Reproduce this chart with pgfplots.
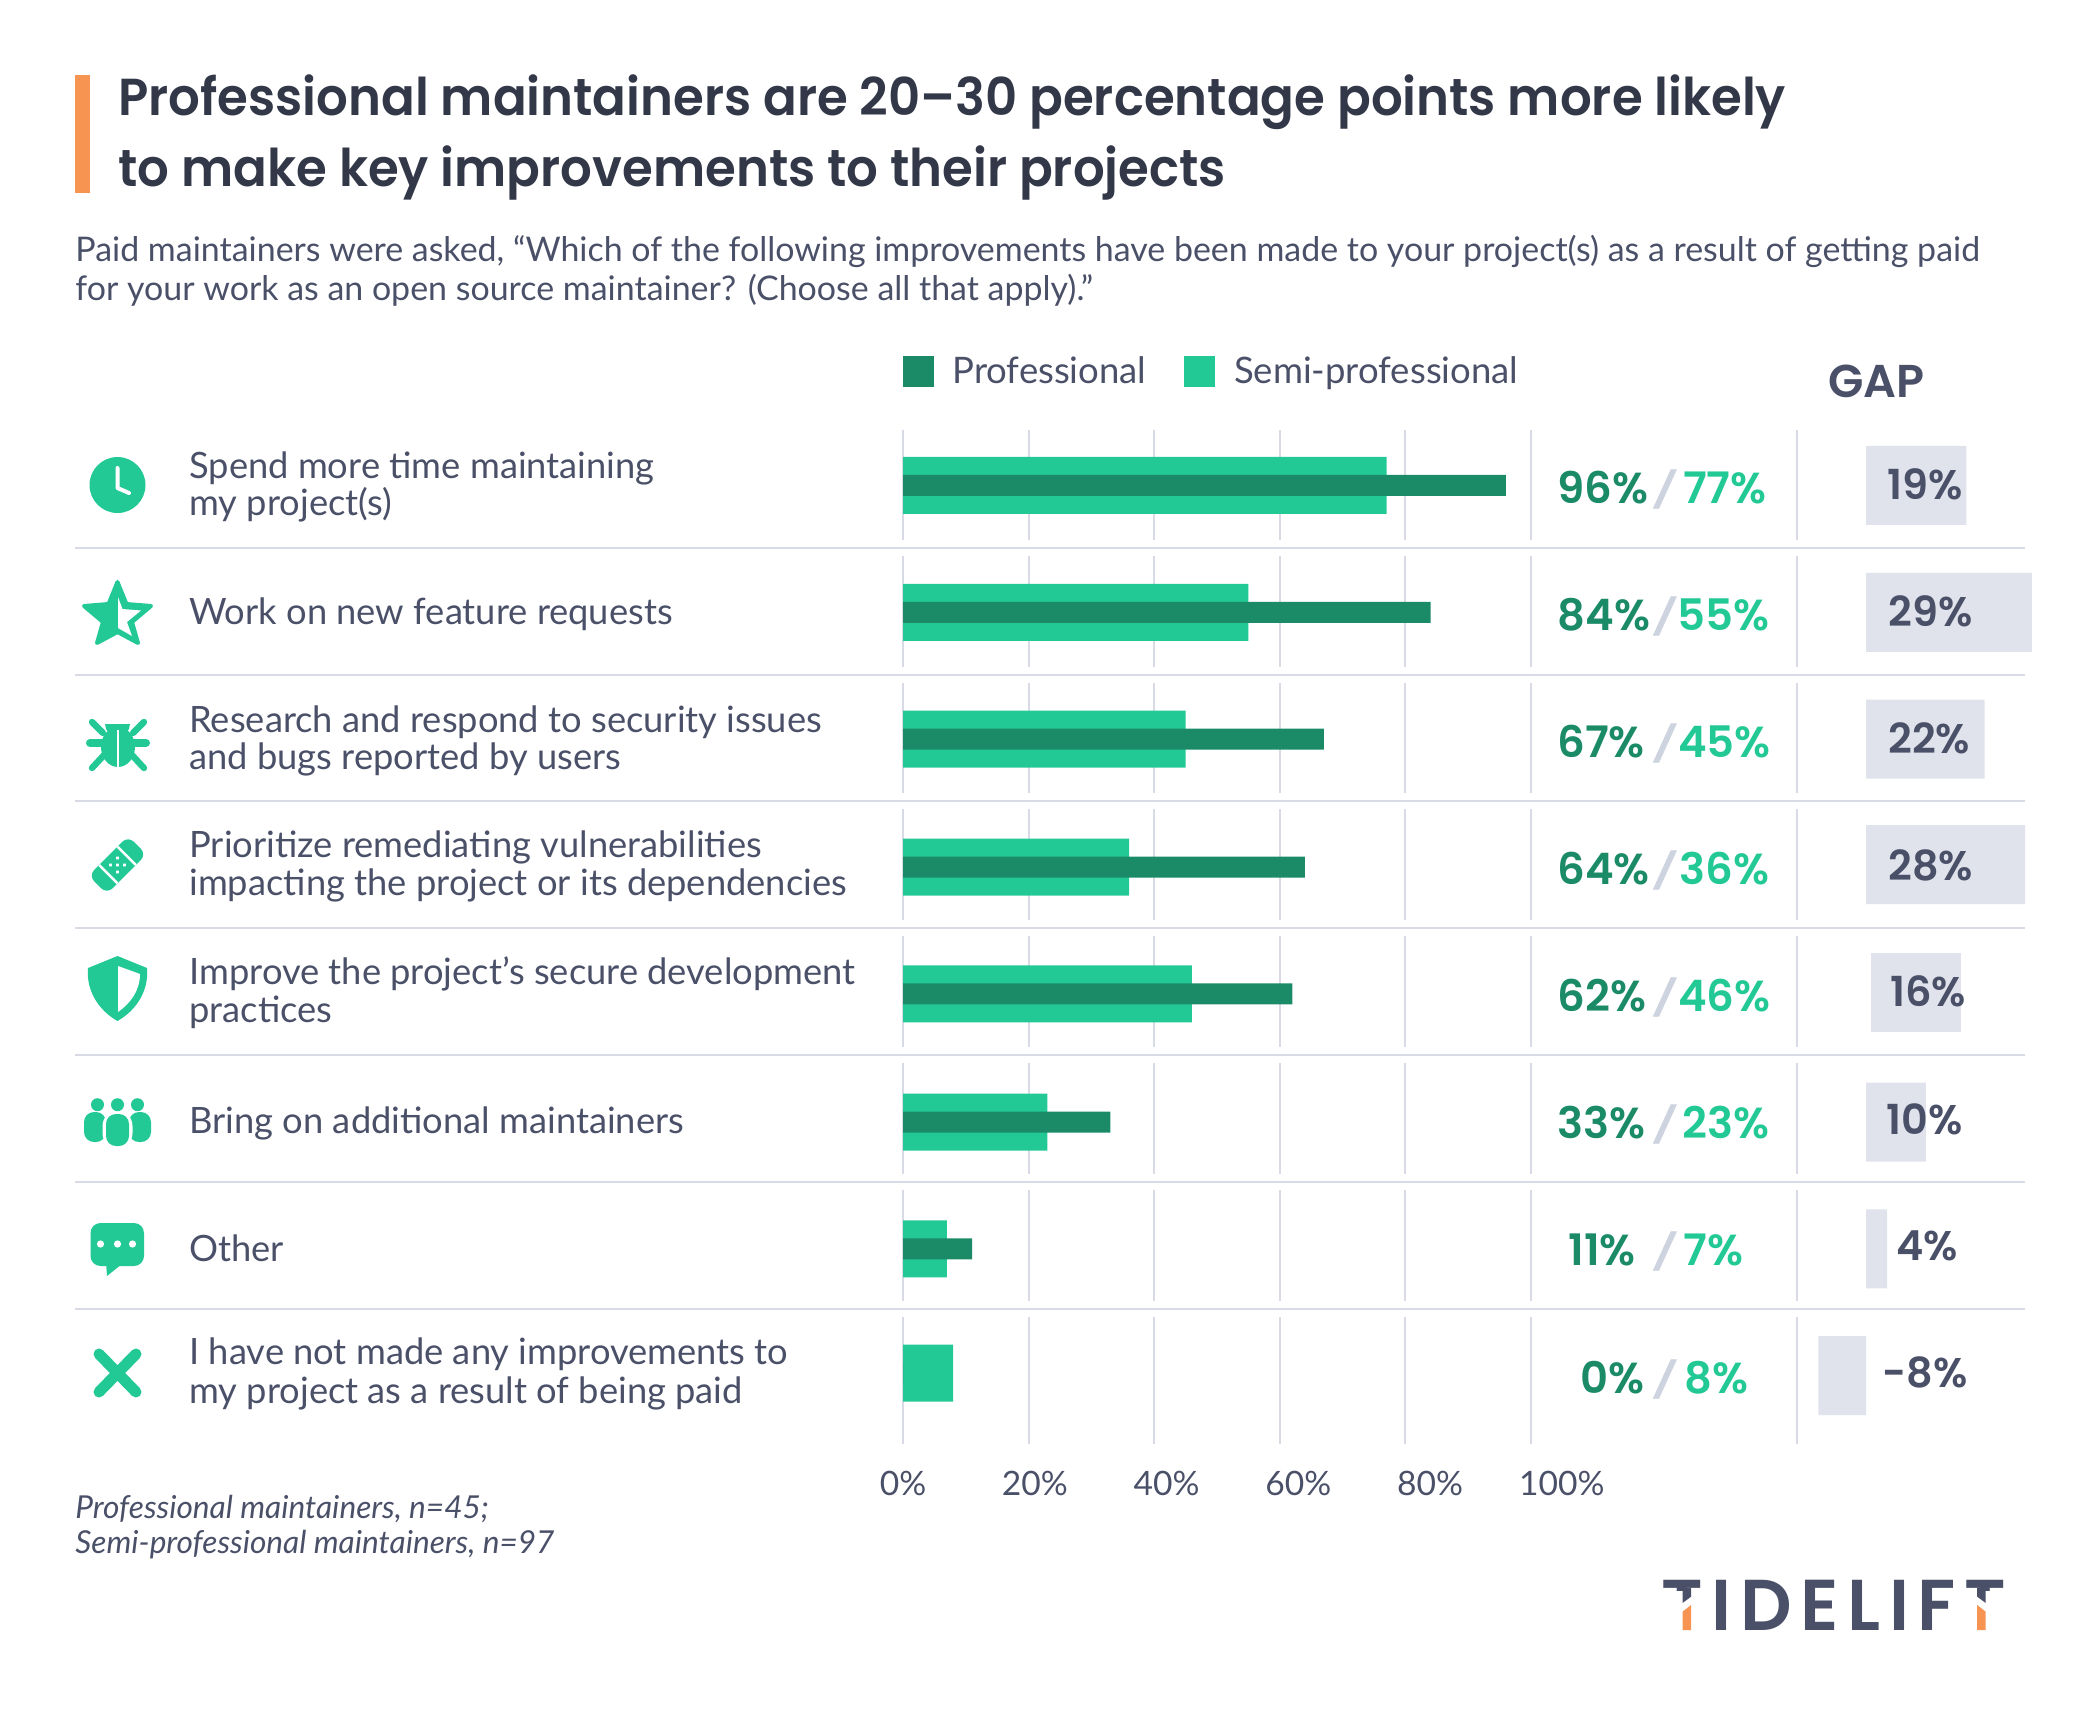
\documentclass[border=0pt]{standalone}
\usepackage{fontspec}
\setmainfont{Lato}
\newfontfamily\headfont{Poppins SemiBold}
\newfontfamily\titlefont[FakeStretch=0.958]{Poppins SemiBold}
\newfontfamily\slashfont[FakeSlant=0.22,FakeBold=1.5]{Poppins}
\newfontfamily\logofont[LetterSpace=12]{Poppins SemiBold}
\usepackage{pgfplots}
\pgfplotsset{compat=1.18}
\usepackage{pgfplotstable}
\definecolor{semi}{HTML}{23C995}
\definecolor{prof}{HTML}{1A8A67}
\definecolor{ink}{HTML}{4A5068}
\definecolor{dark}{HTML}{333849}
\definecolor{gapfill}{HTML}{E0E3EB}
\definecolor{rule}{HTML}{D8DBE5}
\definecolor{slash}{HTML}{CDD3DF}
\definecolor{accent}{HTML}{F89451}

% row, professional, semi-professional
\pgfplotstableread{
row prof semi
0 96 77
1 84 55
2 67 45
3.01 64 36
4.01 62 46
5.02 33 23
6.02 11 7
7 0 8
}\improvements
% row, gap bar as drawn
\pgfplotstableread{
row gap
0 17.9
1 29.6
2 21.2
2.99 28.4
5.02 10.7
6.02 3.75
7.02 -8.5
}\gaps

\newcommand{\rowlabel}[2]{\node[anchor=base west,inner sep=0,text=ink,font=\fontsize{18.15}{20}\selectfont] at (189,#1+1) {#2};}
\newcommand{\scores}[5]{%
  \node[anchor=base west,inner sep=0,text=prof,font=\headfont\fontsize{21.7}{22}\selectfont] at (#2,#1) {#3\%};
  \node[anchor=base,inner sep=0,text=slash,font=\slashfont\bfseries\fontsize{17}{22}\selectfont] at (1662,#1-1) {/};
  \node[anchor=base east,inner sep=0,text=semi,font=\headfont\fontsize{21.7}{22}\selectfont] at (#4,#1) {#5\%};}
\newcommand{\gaptext}[3]{\node[anchor=base west,inner sep=0,text=ink,font=\headfont\fontsize{20.7}{22}\selectfont] at (#2,#1) {#3\%};}

\begin{document}
\begin{tikzpicture}[x=0.5pt,y=-0.5pt]
\path[use as bounding box] (0,0) rectangle (2100,1730);

\begin{axis}[
  at={(451.5pt,-722pt)}, anchor=south west,
  scale only axis, width=314pt, height=507pt,
  xmin=0, xmax=100, ymin=-0.437, ymax=7.559,
  y dir=reverse,
  hide y axis,
  axis x line=bottom,
  x axis line style={draw=none},
  tick style={draw=none},
  xtick={0,20,40,60,80,100},
  xticklabels={0\%,20\%,40\%,60\%,80\%,100\%},
  xticklabel style={text=ink,font=\fontsize{16.8}{20}\selectfont,yshift=-8pt,xshift=\ticknum*3.08pt},
  xmajorgrids,
  grid style={rule,line width=1pt},
  clip=false,
  legend style={draw=none,fill=none,at={(0,1)},anchor=south west,yshift=19.7pt,xshift=-0.3pt,
    inner sep=0pt,font=\fontsize{18.25}{20}\selectfont,text=ink,legend columns=2,
    /tikz/every even column/.append style={column sep=17pt}},
  legend image code/.code={\fill[#1] (0pt,-7.5pt) rectangle (15pt,7.5pt);},
]
\addlegendimage{prof}\addlegendentry{\hspace{7.4pt}Professional}
\addlegendimage{semi}\addlegendentry{\hspace{7.4pt}Semi-professional}
\addplot[xbar,forget plot,bar width=28.5pt,bar shift=0pt,fill=semi,draw=none] table[x=semi,y=row] {\improvements};
\addplot[xbar,forget plot,bar width=10.5pt,bar shift=0pt,fill=prof,draw=none] table[x=prof,y=row] {\improvements};
\end{axis}

\begin{axis}[
  at={(898.5pt,-722pt)}, anchor=south west,
  scale only axis, width=121.5pt, height=507pt,
  xmin=-12.32, xmax=31.07, ymin=-0.437, ymax=7.559,
  y dir=reverse,
  axis lines=none,
  clip=false,
]
\addplot[xbar,bar width=39.5pt,bar shift=0pt,fill=gapfill,draw=none] table[x=gap,y=row] {\gaps};
% this bar starts a little right of the baseline in the reference
\addplot[fill=gapfill,draw=none] coordinates {(0.9,3.69)(16.9,3.69)(16.9,4.31)(0.9,4.31)} -- cycle;
\end{axis}
\draw[rule,line width=1pt] (1797,430) -- (1797,1444);

% white gaps and row rules
\foreach \s in {547.5,674.6,801.4,928,1055,1182,1309}{
  \fill[white] (890,\s-8) rectangle (1810,\s+8);
  \draw[rule,line width=1pt] (75,\s) -- (2025,\s);
}

% header
\fill[accent] (75,75) rectangle (90,193);
\node[anchor=base west,inner sep=0,text=dark,font=\titlefont\fontsize{26}{30}\selectfont] at (118,115) {Professional maintainers are 20–30 percentage points more likely};
\node[anchor=base west,inner sep=0,text=dark,font=\titlefont\fontsize{26}{30}\selectfont] at (118,186) {to make key improvements to their projects};
\node[anchor=base west,inner sep=0,text=ink,font=\fontsize{16.97}{20}\selectfont] at (75,261) {Paid maintainers were asked, “Which of the following improvements have been made to your project(s) as a result of getting paid};
\node[anchor=base west,inner sep=0,text=ink,font=\fontsize{16.97}{20}\selectfont] at (75,300) {for your work as an open source maintainer? (Choose all that apply).”};
\node[anchor=base west,inner sep=0,text=ink,font=\headfont\fontsize{23}{24}\selectfont] at (1828,397) {GAP};

% row labels
\rowlabel{477}{Spend more time maintaining}
\rowlabel{514.6}{my project(s)}
\rowlabel{623}{Work on new feature requests}
\rowlabel{731.4}{Research and respond to security issues}
\rowlabel{768}{and bugs reported by users}
\rowlabel{856.4}{Prioritize remediating vulnerabilities}
\rowlabel{894}{impacting the project or its dependencies}
\rowlabel{983.7}{Improve the project’s secure development}
\rowlabel{1021}{practices}
\rowlabel{1132}{Bring on additional maintainers}
\rowlabel{1260}{Other}
\rowlabel{1363.7}{I have not made any improvements to}
\rowlabel{1402}{my project as a result of being paid}

% score pairs
\scores{503}{1557}{96}{1767}{77}
\scores{630}{1557}{84}{1770}{55}
\scores{757}{1557}{67}{1771}{45}
\scores{884}{1557}{64}{1770}{36}
\scores{1011}{1557}{62}{1771}{46}
\scores{1138}{1557}{33}{1770}{23}
\scores{1265}{1568}{11}{1744}{7}
\scores{1393}{1580}{0}{1749}{8}

% gap labels
\gaptext{499}{1887}{19}
\gaptext{626}{1888}{29}
\gaptext{753}{1888}{22}
\gaptext{880}{1888}{28}
\gaptext{1006}{1890}{16}
\gaptext{1134}{1886}{10}
\gaptext{1260}{1896}{4}
\gaptext{1387}{1882}{-8}

% footnote
\node[anchor=base west,inner sep=0,text=ink,font=\itshape\fontsize{15.8}{16}\selectfont] at (75,1518) {Professional maintainers, n=45;};
\node[anchor=base west,inner sep=0,text=ink,font=\itshape\fontsize{15.8}{16}\selectfont] at (75,1553) {Semi-professional maintainers, n=97};

% logo: real text, then the split stems of the two Ts on top
\node[anchor=base west,inner sep=0,text=ink,font=\logofont\fontsize{36}{36}\selectfont] at (1661,1630) {TIDELIFT};
\fill[white] (1672,1591) rectangle (1702,1633);
\fill[white] (1966,1591) rectangle (1996,1633);
\fill[ink] (1682.5,1588) -- (1691,1588) -- (1691,1596.7) -- (1682.5,1603) -- cycle;
\fill[accent] (1691,1605) -- (1691,1630) -- (1682.5,1630) -- (1682.5,1611.7) -- cycle;
\fill[ink] (1977.2,1588) -- (1985.7,1588) -- (1985.7,1603) -- (1977.2,1596.7) -- cycle;
\fill[accent] (1977.2,1605) -- (1985.7,1611.7) -- (1985.7,1630) -- (1977.2,1630) -- cycle;

% icons
\begin{scope}[semi]
  % clock
  \fill (117.5,485) circle[radius=28];
  \draw[white,line width=2pt,line cap=round,line join=round] (117.5,468) -- (117.5,488) -- (129,493);
  % star, left half solid
  \fill[line join=round,draw=semi,line width=2pt] (117.5,582) -- (126.5,604) -- (151,606) -- (132,622) -- (138,643) -- (117.5,632) -- (97,643) -- (103,622) -- (84,606) -- (108.5,604) -- cycle;
  \fill[white] (118,597) -- (122.5,609) -- (141,610.5) -- (127,622) -- (132,636) -- (118,628) -- cycle;
  % bug
  \fill (105,724) arc[start angle=180,end angle=0,radius=12.5] -- cycle;
  \fill (118,747) ellipse[x radius=17,y radius=20];
  \draw[line width=3.2pt,line cap=round] (92,722) -- (103,733) (144,722) -- (133,733) (92,768) -- (105,754) (144,768) -- (131,754);
  \draw[line width=4pt,line cap=round] (90,743) -- (146,743);
  \draw[white,line width=1.4pt] (118,730) -- (118,768);
  % bandage
  \begin{scope}[shift={(117.5,865)},rotate=45]
    \fill[rounded corners=4pt] (-28,-13) rectangle (28,13);
    \draw[white,line width=1.2pt] (-13,-13) -- (-13,13) (13,-13) -- (13,13);
    \foreach \a/\b in {-5/-5,-5/5,5/-5,5/5,0/0}{\fill[white] (\a,\b) circle[radius=1.9];}
  \end{scope}
  % shield, left half solid
  \fill (117.5,956) -- (147,968) .. controls (149,990) and (137,1010) .. (117.5,1021) .. controls (98,1010) and (86,990) .. (88,968) -- cycle;
  \fill[white] (118,966) -- (140,974) .. controls (140,990) and (131,1003) .. (118,1012) -- cycle;
  % people
  \fill[rounded corners=5pt] (84,1112) rectangle (106,1142);
  \fill[rounded corners=5pt] (129,1112) rectangle (151,1142);
  \fill[white,rounded corners=8pt] (102.5,1110) rectangle (132.5,1149);
  \fill[rounded corners=5pt] (106,1114) rectangle (129,1146);
  \foreach \x in {97.5,117.5,137.5}{\fill (\x,1104.7) circle[radius=6.5];}
  % speech bubble
  \fill[rounded corners=5pt] (90.5,1223) rectangle (144,1266);
  \fill (106,1262) -- (107,1276) -- (122,1264) -- cycle;
  \foreach \x in {100.5,117.5,132.5}{\fill[white] (\x,1244) circle[radius=3.6];}
  % cross
  \draw[line width=5.5pt,line cap=round] (99,1354) -- (136,1392) (136,1354) -- (99,1392);
\end{scope}
\end{tikzpicture}
\end{document}
